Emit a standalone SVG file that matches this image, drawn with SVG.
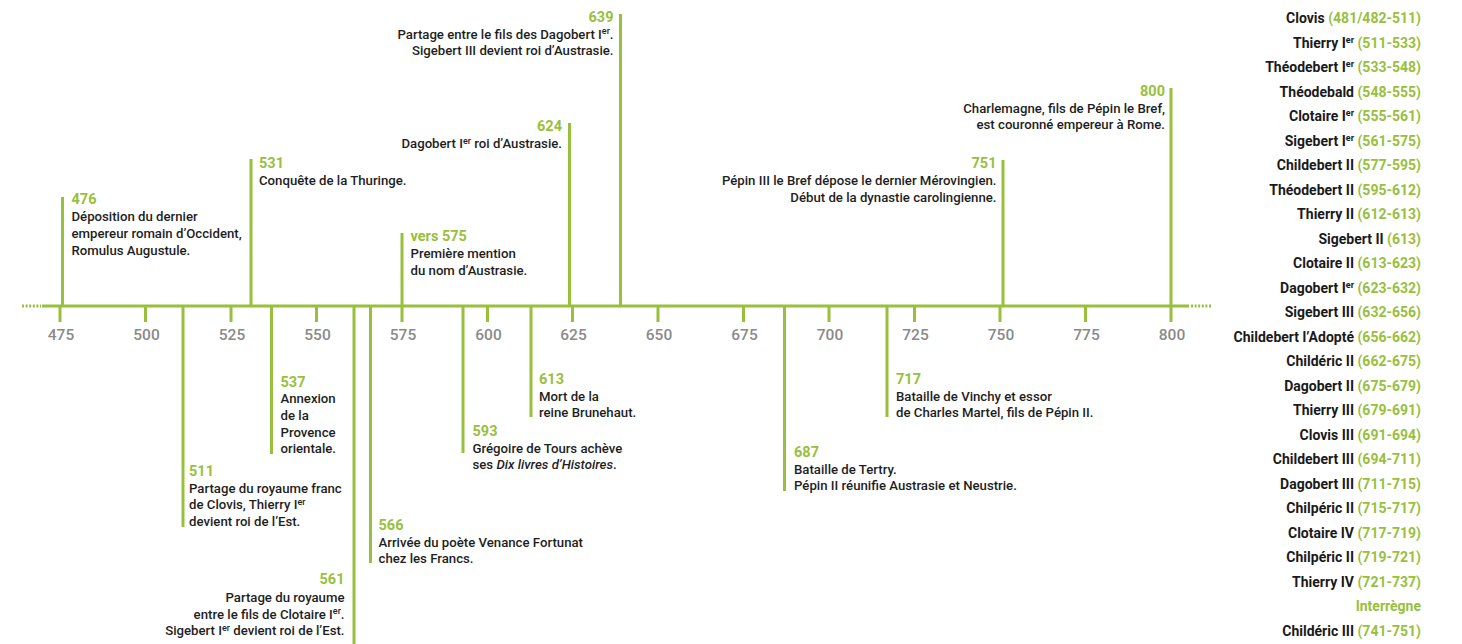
<svg xmlns="http://www.w3.org/2000/svg" width="1462" height="644" viewBox="0 0 1462 644">
<defs>
<style>
text{font-family:Roboto,"DejaVu Sans",sans-serif}
.ax{stroke:#98c03d;stroke-width:3;fill:none}
.dot{stroke:#98c03d;stroke-width:3;stroke-dasharray:2 1.6;fill:none}
.stem{stroke:#98c03d;stroke-width:3}
.yr{font-weight:700;font-size:14.5px;fill:#98c03d}
.d{font-weight:500;font-size:13.2px;fill:#1e1e1e}
.tk{font-weight:500;font-size:15.5px;fill:#8a8a8a;text-anchor:middle}
.k{font-weight:700;font-size:14px;fill:#1a1a1a;text-anchor:end}
.g{fill:#98c03d}
.s{font-size:9px}
.e{text-anchor:end}
.i{font-style:italic}
</style>
</defs>
<rect width="1462" height="644" fill="#ffffff"/>

<g id="axis">
<line class="dot" x1="22" y1="306" x2="41" y2="306"/>
<line class="ax" x1="42" y1="306" x2="1189" y2="306"/>
<line class="dot" x1="1191" y1="306" x2="1212" y2="306"/>
<g class="ax">
<line x1="60" y1="306" x2="60" y2="322"/>
<line x1="145.5" y1="306" x2="145.5" y2="322"/>
<line x1="231" y1="306" x2="231" y2="322"/>
<line x1="316.5" y1="306" x2="316.5" y2="322"/>
<line x1="402" y1="306" x2="402" y2="322"/>
<line x1="487.5" y1="306" x2="487.5" y2="322"/>
<line x1="572.5" y1="306" x2="572.5" y2="322"/>
<line x1="658" y1="306" x2="658" y2="322"/>
<line x1="743.5" y1="306" x2="743.5" y2="322"/>
<line x1="829" y1="306" x2="829" y2="322"/>
<line x1="914.5" y1="306" x2="914.5" y2="322"/>
<line x1="1000" y1="306" x2="1000" y2="322"/>
<line x1="1085.5" y1="306" x2="1085.5" y2="322"/>
<line x1="1171" y1="306" x2="1171" y2="322"/>
</g>
<text class="tk" x="61" y="340">475</text>
<text class="tk" x="146.5" y="340">500</text>
<text class="tk" x="232" y="340">525</text>
<text class="tk" x="317.5" y="340">550</text>
<text class="tk" x="403" y="340">575</text>
<text class="tk" x="488.5" y="340">600</text>
<text class="tk" x="573.5" y="340">625</text>
<text class="tk" x="659" y="340">650</text>
<text class="tk" x="744.5" y="340">675</text>
<text class="tk" x="830" y="340">700</text>
<text class="tk" x="915.5" y="340">725</text>
<text class="tk" x="1001" y="340">750</text>
<text class="tk" x="1086.5" y="340">775</text>
<text class="tk" x="1172" y="340">800</text>
</g>

<g id="connectors">
<line class="stem" x1="62.5" y1="197" x2="62.5" y2="306"/>
<line class="stem" x1="251" y1="159" x2="251" y2="306"/>
<line class="stem" x1="402" y1="233" x2="402" y2="306"/>
<line class="stem" x1="569.5" y1="123" x2="569.5" y2="306"/>
<line class="stem" x1="620.5" y1="14" x2="620.5" y2="306"/>
<line class="stem" x1="1003" y1="160" x2="1003" y2="306"/>
<line class="stem" x1="1171" y1="88" x2="1171" y2="306"/>
<line class="stem" x1="183" y1="306" x2="183" y2="527"/>
<line class="stem" x1="271.5" y1="306" x2="271.5" y2="454"/>
<line class="stem" x1="354" y1="306" x2="354" y2="644"/>
<line class="stem" x1="370.5" y1="306" x2="370.5" y2="563"/>
<line class="stem" x1="463" y1="306" x2="463" y2="453"/>
<line class="stem" x1="531" y1="306" x2="531" y2="417"/>
<line class="stem" x1="784.5" y1="306" x2="784.5" y2="491"/>
<line class="stem" x1="887" y1="306" x2="887" y2="417"/>
</g>

<g id="e476">
<text class="yr" x="71.5" y="204">476</text>
<text class="d" x="71.5" y="221">Déposition du dernier</text>
<text class="d" x="71.5" y="238">empereur romain d’Occident,</text>
<text class="d" x="71.5" y="255">Romulus Augustule.</text>
</g>
<g id="e531">
<text class="yr" x="259" y="168">531</text>
<text class="d" x="259" y="185">Conquête de la Thuringe.</text>
</g>
<g id="e575">
<text class="yr" x="410.5" y="241">vers 575</text>
<text class="d" x="410.5" y="258">Première mention</text>
<text class="d" x="410.5" y="275">du nom d’Austrasie.</text>
</g>
<g id="e624">
<text class="yr e" x="562" y="131">624</text>
<text class="d e" x="562" y="148">Dagobert I<tspan class="s" dy="-4.5">er</tspan><tspan dy="4.5"> roi d’Austrasie.</tspan></text>
</g>
<g id="e639">
<text class="yr e" x="613.5" y="22">639</text>
<text class="d e" x="613.5" y="38.5">Partage entre le fils des Dagobert I<tspan class="s" dy="-4.5">er</tspan><tspan dy="4.5">.</tspan></text>
<text class="d e" x="613.5" y="55">Sigebert III devient roi d’Austrasie.</text>
</g>
<g id="e751">
<text class="yr e" x="996.5" y="167.5">751</text>
<text class="d e" x="996.5" y="184.5">Pépin III le Bref dépose le dernier Mérovingien.</text>
<text class="d e" x="996.5" y="201.5">Début de la dynastie carolingienne.</text>
</g>
<g id="e800">
<text class="yr e" x="1165" y="95.5">800</text>
<text class="d e" x="1165" y="112.5">Charlemagne, fils de Pépin le Bref,</text>
<text class="d e" x="1165" y="129">est couronné empereur à Rome.</text>
</g>
<g id="e511">
<text class="yr" x="189" y="476">511</text>
<text class="d" x="189" y="492.5">Partage du royaume franc</text>
<text class="d" x="189" y="509">de Clovis, Thierry I<tspan class="s" dy="-4.5">er</tspan></text>
<text class="d" x="189" y="525.5">devient roi de l’Est.</text>
</g>
<g id="e537">
<text class="yr" x="280.5" y="386.5">537</text>
<text class="d" x="280.5" y="403">Annexion</text>
<text class="d" x="280.5" y="420">de la</text>
<text class="d" x="280.5" y="436.5">Provence</text>
<text class="d" x="280.5" y="453">orientale.</text>
</g>
<g id="e561">
<text class="yr e" x="344.5" y="584">561</text>
<text class="d e" x="344.5" y="601.5">Partage du royaume</text>
<text class="d e" x="344.5" y="618.5">entre le fils de Clotaire I<tspan class="s" dy="-4.5">er</tspan><tspan dy="4.5">.</tspan></text>
<text class="d e" x="344.5" y="635">Sigebert I<tspan class="s" dy="-4.5">er</tspan><tspan dy="4.5"> devient roi de l’Est.</tspan></text>
</g>
<g id="e566">
<text class="yr" x="378.5" y="530">566</text>
<text class="d" x="378.5" y="546.5">Arrivée du poète Venance Fortunat</text>
<text class="d" x="378.5" y="563">chez les Francs.</text>
</g>
<g id="e593">
<text class="yr" x="472.5" y="435.5">593</text>
<text class="d" x="472.5" y="452.5">Grégoire de Tours achève</text>
<text class="d" x="472.5" y="469">ses <tspan class="i">Dix livres d’Histoires</tspan>.</text>
</g>
<g id="e613">
<text class="yr" x="539" y="384">613</text>
<text class="d" x="539" y="400.5">Mort de la</text>
<text class="d" x="539" y="417">reine Brunehaut.</text>
</g>
<g id="e687">
<text class="yr" x="794" y="457">687</text>
<text class="d" x="794" y="473.5">Bataille de Tertry.</text>
<text class="d" x="794" y="490">Pépin II réunifie Austrasie et Neustrie.</text>
</g>
<g id="e717">
<text class="yr" x="896" y="384">717</text>
<text class="d" x="896" y="400.5">Bataille de Vinchy et essor</text>
<text class="d" x="896" y="417">de Charles Martel, fils de Pépin II.</text>
</g>

<g id="kings">
<text class="k" x="1421" y="23">Clovis <tspan class="g">(481/482-511)</tspan></text>
<text class="k" x="1421" y="47.5">Thierry I<tspan class="s" dy="-5">er</tspan><tspan dy="5"> </tspan><tspan class="g">(511-533)</tspan></text>
<text class="k" x="1421" y="72">Théodebert I<tspan class="s" dy="-5">er</tspan><tspan dy="5"> </tspan><tspan class="g">(533-548)</tspan></text>
<text class="k" x="1421" y="96.5">Théodebald <tspan class="g">(548-555)</tspan></text>
<text class="k" x="1421" y="121">Clotaire I<tspan class="s" dy="-5">er</tspan><tspan dy="5"> </tspan><tspan class="g">(555-561)</tspan></text>
<text class="k" x="1421" y="145.5">Sigebert I<tspan class="s" dy="-5">er</tspan><tspan dy="5"> </tspan><tspan class="g">(561-575)</tspan></text>
<text class="k" x="1421" y="170">Childebert II <tspan class="g">(577-595)</tspan></text>
<text class="k" x="1421" y="194.5">Théodebert II <tspan class="g">(595-612)</tspan></text>
<text class="k" x="1421" y="219">Thierry II <tspan class="g">(612-613)</tspan></text>
<text class="k" x="1421" y="243.5">Sigebert II <tspan class="g">(613)</tspan></text>
<text class="k" x="1421" y="268">Clotaire II <tspan class="g">(613-623)</tspan></text>
<text class="k" x="1421" y="292.5">Dagobert I<tspan class="s" dy="-5">er</tspan><tspan dy="5"> </tspan><tspan class="g">(623-632)</tspan></text>
<text class="k" x="1421" y="317">Sigebert III <tspan class="g">(632-656)</tspan></text>
<text class="k" x="1421" y="341.5">Childebert l’Adopté <tspan class="g">(656-662)</tspan></text>
<text class="k" x="1421" y="366">Childéric II <tspan class="g">(662-675)</tspan></text>
<text class="k" x="1421" y="390.5">Dagobert II <tspan class="g">(675-679)</tspan></text>
<text class="k" x="1421" y="415">Thierry III <tspan class="g">(679-691)</tspan></text>
<text class="k" x="1421" y="439.5">Clovis III <tspan class="g">(691-694)</tspan></text>
<text class="k" x="1421" y="464">Childebert III <tspan class="g">(694-711)</tspan></text>
<text class="k" x="1421" y="488.5">Dagobert III <tspan class="g">(711-715)</tspan></text>
<text class="k" x="1421" y="513">Chilpéric II <tspan class="g">(715-717)</tspan></text>
<text class="k" x="1421" y="537.5">Clotaire IV <tspan class="g">(717-719)</tspan></text>
<text class="k" x="1421" y="562">Chilpéric II <tspan class="g">(719-721)</tspan></text>
<text class="k" x="1421" y="586.5">Thierry IV <tspan class="g">(721-737)</tspan></text>
<text class="k g" x="1421" y="611">Interrègne</text>
<text class="k" x="1421" y="635.5">Childéric III <tspan class="g">(741-751)</tspan></text>
</g>
</svg>
